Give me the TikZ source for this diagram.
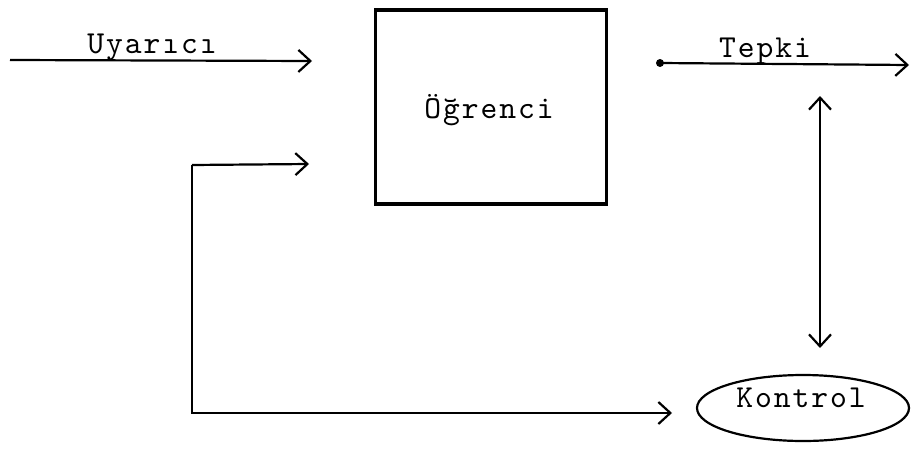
\documentclass[tikz,border=0pt]{standalone}
\usepackage{fontspec}
\newfontfamily\tw{lmmono10-regular.otf}[LetterSpace=6]
\usetikzlibrary{arrows.meta,shapes.geometric}
\tikzset{
  lbl/.style={font=\tw\fontsize{32}{34}\selectfont, inner sep=0pt},
  tipb/.tip={Straight Barb[length=12pt,width=22pt,line width=2.2pt]},
  arr/.style={line width=2.2pt, -tipb},
  dblarr/.style={line width=2.2pt, tipb-tipb},
}
\begin{document}
\begin{tikzpicture}[x=1pt,y=-1pt]
\useasboundingbox (0,0) rectangle (912,455);
% main box
\node[draw, line width=3.6pt, minimum width=231pt, minimum height=194pt, inner sep=0pt] (box) at (491,107) {};
\node[lbl] (ogr) at (489,110) {Öğrenci};
% stimulus
\coordinate (uin) at (10,60);
\coordinate (uend) at (312,61);
\draw[arr] (uin) -- (uend);
\node[lbl, anchor=base] (uyar) at (152,53) {Uyarıcı};
% response
\coordinate (tstart) at (660,63);
\coordinate (tend) at (909,65);
\fill (tstart) circle (4pt);
\draw[arr] (tstart) -- (tend);
\node[lbl, anchor=base] (tepki) at (765,57) {Tepki};
% control
\node[draw, ellipse, line width=2.2pt, minimum width=212pt, minimum height=66pt, inner sep=0pt] (ctrl) at (803,408) {};
\node[lbl] (ktext) at (801,398) {Kontrol};
% vertical double arrow
\coordinate (vtop) at (820,96);
\coordinate (vbot) at (820,348);
\draw[dblarr] (vtop) -- (vbot);
% feedback
\coordinate (fbcorner) at (192,165);
\coordinate (fbtop) at (309,164);
\coordinate (fbbot) at (672,413);
\draw[arr] (fbcorner) -- (fbtop);
\draw[arr] (fbcorner) |- (fbbot);
\end{tikzpicture}
\end{document}
